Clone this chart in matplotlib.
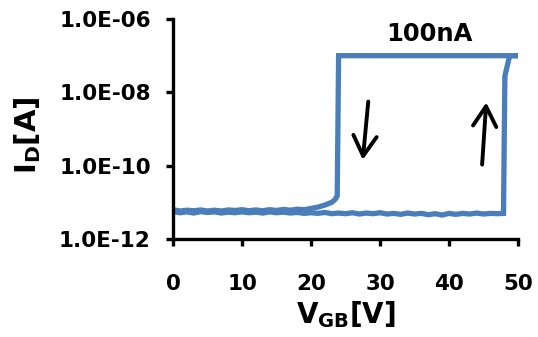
import numpy as np
import matplotlib.pyplot as plt
from matplotlib.ticker import FixedLocator, FuncFormatter, NullLocator

plt.rcParams['font.family'] = ['DejaVu Sans']
plt.rcParams['font.weight'] = 'bold'
plt.rcParams['mathtext.fontset'] = 'custom'
plt.rcParams['mathtext.rm'] = 'DejaVu Sans:bold'
plt.rcParams['mathtext.bf'] = 'DejaVu Sans:bold'
plt.rcParams['mathtext.default'] = 'bf'

# Forward sweep (0 -> 50 V)
v_fwd = [0, 1, 2, 3, 4, 5, 6, 7, 8, 9, 10, 11, 12, 13, 14, 15, 16, 17, 18,
         19, 20, 21, 22, 23, 24, 25, 26, 27, 28, 29, 30, 31, 32, 33, 34, 35,
         36, 37, 38, 39, 40, 41, 42, 43, 44, 45, 46, 47, 47.9, 48.1, 48.8,
         50.3]
i_fwd = [5.6e-12, 5.2e-12, 5.5e-12, 5.1e-12, 5.6e-12, 5.3e-12, 5.5e-12,
         5.1e-12, 5.4e-12, 5.2e-12, 5.5e-12, 5.2e-12, 5.4e-12, 5.1e-12,
         5.5e-12, 5.2e-12, 5.4e-12, 5.1e-12, 5.3e-12, 5.0e-12, 5.2e-12,
         5.0e-12, 5.3e-12, 4.9e-12, 5.1e-12, 4.9e-12, 5.2e-12, 4.8e-12,
         5.1e-12, 4.9e-12, 5.2e-12, 4.8e-12, 5.0e-12, 4.7e-12, 5.1e-12,
         4.8e-12, 5.0e-12, 4.6e-12, 4.9e-12, 4.5e-12, 5.0e-12, 4.7e-12,
         5.0e-12, 4.8e-12, 5.1e-12, 4.8e-12, 5.0e-12, 4.9e-12, 5.0e-12,
         2.8e-8, 1.0e-7, 1.0e-7]

# Reverse sweep (50 -> 0 V)
v_rev = [50.3, 40, 30, 24.0, 23.8, 23.5, 23.0, 22.5, 22.0, 21.0, 20.0, 19,
         18, 17, 16, 15, 14, 13, 12, 11, 10, 9, 8, 7, 6, 5, 4, 3, 2, 1, 0]
i_rev = [1.0e-7, 1.0e-7, 1.0e-7, 1.0e-7, 1.5e-11, 1.2e-11, 1.0e-11,
         9.2e-12, 8.4e-12, 7.4e-12, 6.8e-12, 6.3e-12, 6.5e-12, 6.1e-12,
         6.4e-12, 6.0e-12, 6.3e-12, 5.9e-12, 6.2e-12, 5.9e-12, 6.3e-12,
         6.0e-12, 6.2e-12, 5.8e-12, 6.1e-12, 5.8e-12, 6.2e-12, 5.9e-12,
         6.1e-12, 5.8e-12, 6.3e-12]

fig = plt.figure(figsize=(5.38, 3.37), dpi=100)
ax = fig.add_axes([0.3216, 0.2908, 0.6412, 0.6528])

blue = '#4A7EBB'
ax.plot(v_fwd, i_fwd, color=blue, lw=3.8, solid_joinstyle='miter')
ax.plot(v_rev, i_rev, color=blue, lw=3.8, solid_joinstyle='miter')

ax.set_yscale('log')
ax.set_xlim(0, 50)
ax.set_ylim(1e-12, 1e-6)
ax.yaxis.set_major_locator(FixedLocator([1e-12, 1e-10, 1e-8, 1e-6]))
ax.yaxis.set_minor_locator(NullLocator())
ax.yaxis.set_major_formatter(FuncFormatter(lambda v, p: '%.1E' % v))
ax.set_xticks([0, 10, 20, 30, 40, 50])

for s in ['top', 'right']:
    ax.spines[s].set_visible(False)
for s in ['left', 'bottom']:
    ax.spines[s].set_linewidth(2.4)
ax.tick_params(axis='both', width=2.4, length=5, labelsize=15.5, direction='out')
ax.tick_params(axis='y', pad=11)
ax.tick_params(axis='x', pad=20)
for lab in ax.get_xticklabels() + ax.get_yticklabels():
    lab.set_fontweight('bold')

ax.set_xlabel('V$_{GB}$[V]', fontsize=20, fontweight='bold', va='center')
ax.xaxis.set_label_coords(0.5, -0.345)
ax.set_ylabel('I$_{D}$[A]', fontsize=21, fontweight='bold', va='center')
ax.yaxis.set_label_coords(-0.423, 0.473)

ax.text(37.2, 3.9e-7, '100nA', fontsize=17.5, fontweight='bold',
        ha='center', va='center')
arrow_style = '->, head_length=0.6, head_width=0.35'
ax.annotate('', xy=(27.5, 1.45e-10), xytext=(28.3, 5.6e-9),
            arrowprops=dict(arrowstyle=arrow_style, lw=2.8, color='black',
                            mutation_scale=24, shrinkA=0, shrinkB=0))
ax.annotate('', xy=(45.4, 5.3e-9), xytext=(44.8, 1.07e-10),
            arrowprops=dict(arrowstyle=arrow_style, lw=2.8, color='black',
                            mutation_scale=24, shrinkA=0, shrinkB=0))

fig.savefig('out.png', dpi=100)
